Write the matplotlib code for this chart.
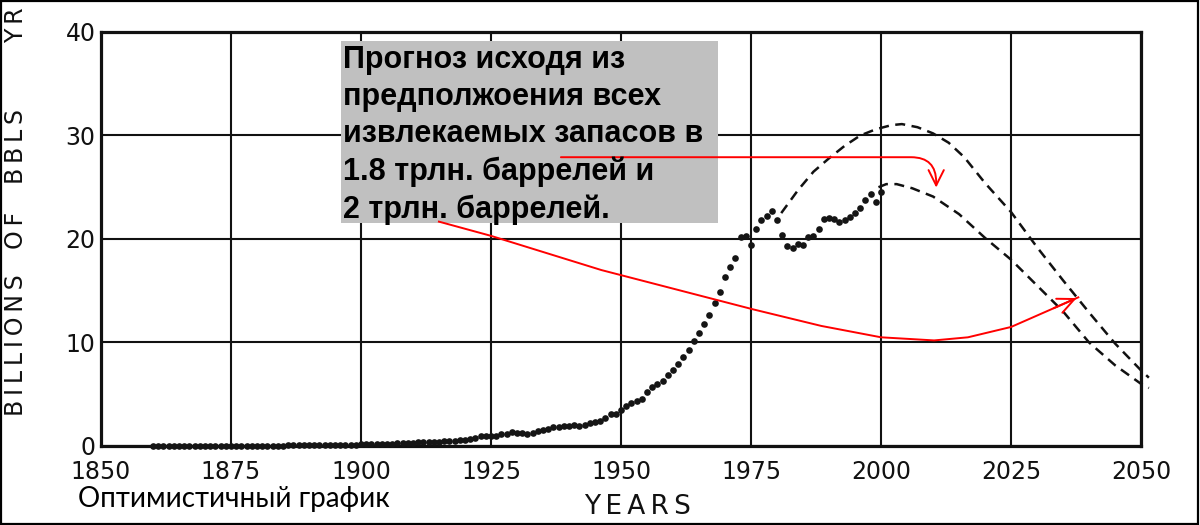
import numpy as np
import matplotlib.pyplot as plt
from matplotlib.patches import Rectangle

# --- données (milliards de barils / an) ---
years = np.arange(1860, 2001)
production = [
    0.00, 0.00, 0.00, 0.00, 0.01, 0.01, 0.01, 0.01, 0.01, 0.01,          # 1860
    0.01, 0.01, 0.01, 0.01, 0.01, 0.02, 0.02, 0.02, 0.02, 0.03,          # 1870
    0.03, 0.03, 0.03, 0.03, 0.03, 0.04, 0.05, 0.05, 0.05, 0.06,          # 1880
    0.08, 0.08, 0.08, 0.08, 0.09, 0.10, 0.11, 0.11, 0.11, 0.13,          # 1890
    0.15, 0.17, 0.18, 0.19, 0.22, 0.22, 0.21, 0.26, 0.29, 0.30,          # 1900
    0.33, 0.34, 0.35, 0.39, 0.40, 0.43, 0.46, 0.50, 0.50, 0.56,          # 1910
    0.62, 0.70, 0.78, 0.92, 0.92, 0.96, 1.00, 1.15, 1.20, 1.35,          # 1920
    1.28, 1.25, 1.20, 1.30, 1.40, 1.50, 1.62, 1.85, 1.80, 1.90,          # 1930
    1.95, 2.00, 1.90, 2.00, 2.20, 2.30, 2.45, 2.75, 3.05, 3.05,          # 1940
    3.45, 3.90, 4.15, 4.35, 4.55, 5.20, 5.70, 6.00, 6.30, 6.90,          # 1950
    7.30, 7.90, 8.60, 9.30, 10.1, 10.9, 11.8, 12.7, 13.8, 14.9,          # 1960
    16.3, 17.3, 18.2, 20.2, 20.3, 19.4, 21.0, 21.8, 22.2, 22.7,          # 1970
    21.8, 20.4, 19.3, 19.1, 19.5, 19.4, 20.2, 20.3, 21.0, 21.9,          # 1980
    22.0, 21.9, 21.6, 21.8, 22.1, 22.5, 23.0, 23.8, 24.3, 23.6,          # 1990
    24.5,                                                                # 2000
]

# prévision 2 trln. barils (courbe haute)
upper_years = [1980.8, 1984, 1987, 1990, 1993, 1996, 1999, 2002, 2004, 2007,
               2010, 2013, 2016, 2020, 2025, 2030, 2035, 2040, 2045, 2050, 2051.5]
upper_vals = [22.5, 24.7, 26.5, 27.8, 29.0, 30.0, 30.6, 31.0, 31.1, 30.8,
              30.2, 29.3, 27.9, 25.4, 22.6, 19.2, 16.0, 12.9, 9.9, 7.3, 6.6]

# prévision 1.8 trln. barils (courbe basse)
lower_years = [1999.5, 2001, 2003, 2006, 2010, 2015, 2020, 2025, 2030, 2035,
               2040, 2045, 2050, 2051.5]
lower_vals = [25.0, 25.3, 25.3, 24.9, 24.1, 22.4, 20.1, 18.0, 15.5, 13.0,
              10.0, 7.8, 6.0, 5.6]

# flèche rouge tracée à la main (vers la courbe haute)
arrow2_x = [1914.8, 1925.0, 1946.2, 1965.4, 1975.4, 1988.5, 2000.0, 2010.2,
            2016.7, 2025.0, 2032.7, 2038.1]
arrow2_y = [21.7, 20.3, 17.0, 14.5, 13.2, 11.6, 10.5, 10.2, 10.5, 11.5, 13.2, 14.4]

xticks = [1850, 1875, 1900, 1925, 1950, 1975, 2000, 2025, 2050]
yticks = [0, 10, 20, 30, 40]

note = ("Прогноз исходя из\nпредполжоения всех\nизвлекаемых запасов в\n"
        "1.8 трлн. баррелей и\n2 трлн. баррелей.")

TS = '\u2009'  # espace fine pour élargir les lettres

fig = plt.figure(figsize=(12, 5.25), dpi=100)
ax = fig.add_axes([0.0842, 0.1505, 0.8667, 0.7886])

ax.set_xlim(1850, 2050)
ax.set_ylim(0, 40)
ax.set_xticks(xticks)
ax.set_yticks(yticks)
ax.grid(True, color='#111111', lw=1.5, zorder=1)
ax.set_axisbelow(True)
for s in ax.spines.values():
    s.set_linewidth(2.3)
    s.set_color('#111111')
ax.tick_params(length=0, labelsize=17, colors='#111111')
ax.tick_params(axis='x', pad=10)
ax.tick_params(axis='y', pad=4)

# points historiques
ax.plot(years, production, 'o', color='#151515', ms=4.8, mec='none',
        clip_on=False, zorder=3)

# courbes pointillées
ax.plot(upper_years, upper_vals, color='#111111', lw=1.8, dashes=(4, 2.6),
        clip_on=False, zorder=3)
ax.plot(lower_years, lower_vals, color='#111111', lw=1.8, dashes=(4, 2.6),
        clip_on=False, zorder=3)

# encadré gris
box = Rectangle((0.2842, 0.5752), 0.3142, 0.3467, transform=fig.transFigure,
                facecolor='#c0c0c0', edgecolor='none', zorder=4, clip_on=False)
ax.add_patch(box)
ax.text(0.2858, 0.914, note, transform=fig.transFigure, ha='left', va='top',
        fontsize=22, fontweight='bold', family='Liberation Sans',
        linespacing=1.31, color='black', zorder=6)

# flèches rouges
ax.annotate('', xy=(2010.6, 24.7), xytext=(1937.9, 27.9),
            arrowprops=dict(arrowstyle='->,head_length=1.1,head_width=0.55',
                            color='red', lw=1.4,
                            connectionstyle='angle,angleA=0,angleB=90,rad=25'),
            zorder=5)
ax.plot(arrow2_x, arrow2_y, color='red', lw=1.4, zorder=5, solid_capstyle='butt')
ax.annotate('', xy=(arrow2_x[-1], arrow2_y[-1]), xytext=(arrow2_x[-2], arrow2_y[-2]),
            arrowprops=dict(arrowstyle='->,head_length=1.2,head_width=0.55',
                            color='red', lw=1.4), zorder=5)

# titres des axes
for word, yc in [('BILLIONS', 345), ('OF', 230), ('BBLS', 147), ('YR', 25)]:
    fig.text(16 / 1200, 1 - yc / 525, TS.join(word), rotation=90, ha='center',
             va='center', fontsize=17, color='#111111')
fig.text(637 / 1200, 1 - 507 / 525, TS.join('YEARS'), ha='center',
         va='center', fontsize=19, color='#111111')
fig.text(78 / 1200, 1 - 499 / 525, 'Оптимистичный график', ha='left', va='center',
         fontsize=20, family='Lato', color='black')

# cadre de l'image
fig.patches.append(Rectangle((0.001, 0.002), 0.997, 0.996, transform=fig.transFigure,
                             fill=False, edgecolor='black', lw=1.6))

fig.savefig('out.png', dpi=100)
